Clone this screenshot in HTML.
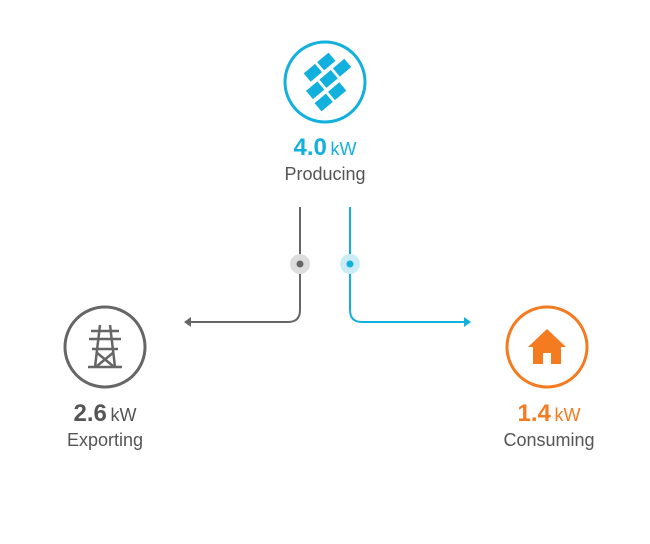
<!DOCTYPE html>
<html><head><style>
body{margin:0;background:#fff;width:650px;height:544px;overflow:hidden;font-family:"Liberation Sans",sans-serif}
.t{position:absolute;text-align:center;width:200px}
.v{font-size:24px;font-weight:bold;line-height:28px}
.v span{font-size:18px;font-weight:normal;margin-left:-3px}
.l{font-size:18px;color:#555;line-height:22px}
</style></head><body>
<svg width="650" height="544" style="position:absolute;left:0;top:0">
<circle cx="325" cy="82" r="40" fill="none" stroke="#12b0dc" stroke-width="3"/>
<g fill="#12b0dc" transform="translate(325,82) rotate(-40) scale(1.35)">
<rect x="-8" y="-15" width="11" height="8"/><rect x="5" y="-15" width="11" height="8"/>
<rect x="-15" y="-4" width="11" height="8"/><rect x="-2" y="-4" width="11" height="8"/><rect x="11" y="-4" width="11" height="8"/>
<rect x="-16" y="7" width="11" height="8"/><rect x="-3" y="7" width="11" height="8"/>
</g>
<circle cx="105" cy="347" r="40" fill="none" stroke="#666" stroke-width="3"/>
<g stroke="#666" stroke-width="2.5" fill="none">
<path d="M100 325 L95 367 M110 325 L115 367"/>
<path d="M91 331 H119 M89 339 H121 M92 349 H118"/>
<path d="M88 367 H122"/>
<path d="M96 352 L113 366 M114 352 L97 366"/>
</g>
<circle cx="547" cy="347" r="40" fill="none" stroke="#f47b20" stroke-width="3"/>
<path d="M547 329 L566 347 H561 V364 H551 V353 H543 V364 H533 V347 H528 Z" fill="#f47b20"/>
<path d="M300 207 V310 Q300 322 288 322 H188" fill="none" stroke="#666" stroke-width="2"/>
<path d="M184 322 L191 317 L191 327 Z" fill="#666"/>
<path d="M350 207 V310 Q350 322 362 322 H466" fill="none" stroke="#12b0dc" stroke-width="2"/>
<path d="M471 322 L464 317 L464 327 Z" fill="#12b0dc"/>
<circle cx="300" cy="264" r="10" fill="#ddd"/><circle cx="300" cy="264" r="3.5" fill="#666"/>
<circle cx="350" cy="264" r="10" fill="#c9ecf7"/><circle cx="350" cy="264" r="3.5" fill="#12b0dc"/>
</svg>
<div class="t" style="left:225px;top:134px"><div class="v" style="color:#12b0dc">4.0 <span>kW</span></div><div class="l">Producing</div></div>
<div class="t" style="left:5px;top:400px"><div class="v" style="color:#555">2.6 <span>kW</span></div><div class="l">Exporting</div></div>
<div class="t" style="left:449px;top:400px"><div class="v" style="color:#f47b20">1.4 <span>kW</span></div><div class="l">Consuming</div></div>
</body></html>
